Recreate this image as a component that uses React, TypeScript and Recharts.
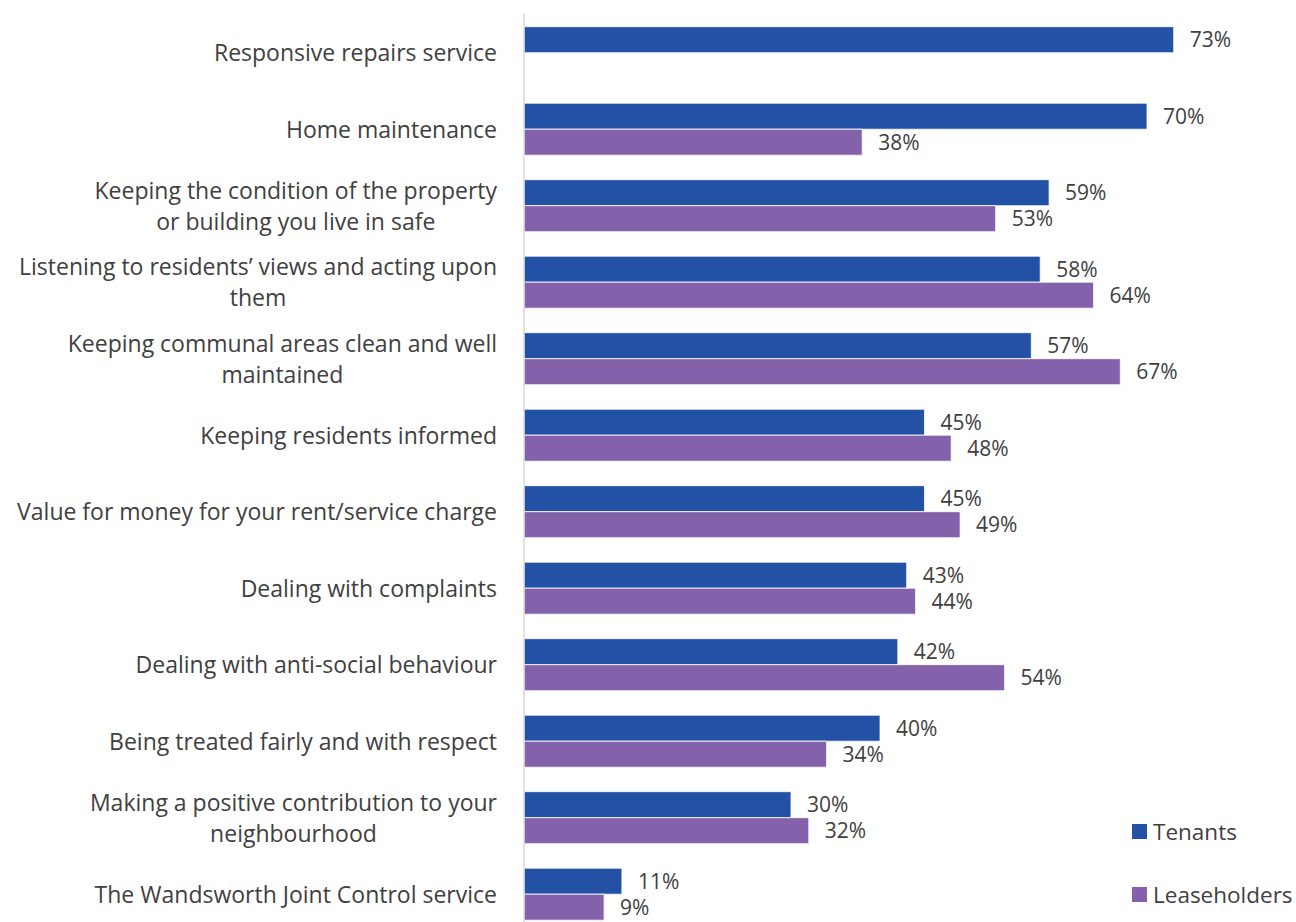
import { BarChart, Bar, XAxis, YAxis, LabelList } from "recharts";

const categories: string[] = [
  "Responsive repairs service",
  "Home maintenance",
  "Keeping the condition of the property\nor building you live in safe",
  "Listening to residents’ views and acting upon\nthem",
  "Keeping communal areas clean and well\nmaintained",
  "Keeping residents informed",
  "Value for money for your rent/service charge",
  "Dealing with complaints",
  "Dealing with anti-social behaviour",
  "Being treated fairly and with respect",
  "Making a positive contribution to your\nneighbourhood",
  "The Wandsworth Joint Control service",
];

const tenants: number[] = [73, 70, 59, 58, 57, 45, 45, 43, 42, 40, 30, 11];
const leaseholders: (number | null)[] = [null, 38, 53, 64, 67, 48, 49, 44, 54, 34, 32, 9];

const seriesNames = ["Tenants", "Leaseholders"];

const TENANT_COLOR = "#2251A5";
const LEASE_COLOR = "#8461AB";
const TEXT = "#404040";
const FONT = "'Open Sans', sans-serif";
const TICK_SIZE = 23;

const data = categories.map((name, i) => ({
  name,
  tenants: tenants[i],
  leaseholders: leaseholders[i],
}));

// measure text so wrapped lines can be centred on the widest one
let ctx: CanvasRenderingContext2D | null = null;
function textWidth(s: string) {
  if (!ctx) ctx = document.createElement("canvas").getContext("2d");
  if (!ctx) return s.length * TICK_SIZE * 0.5;
  ctx.font = `${TICK_SIZE}px 'Open Sans'`;
  return ctx.measureText(s).width;
}

function CategoryTick({ x, y, payload }: any) {
  const lines = String(payload.value).split("\n");
  const lh = 31;
  const start = -((lines.length - 1) * lh) / 2;
  const multi = lines.length > 1;
  const w = multi ? Math.max(...lines.map(textWidth)) : 0;
  const tx = multi ? x - w / 2 : x;
  return (
    <text x={tx} y={y} textAnchor={multi ? "middle" : "end"} fill={TEXT} fontSize={TICK_SIZE} fontFamily={FONT}>
      {lines.map((line, i) => (
        <tspan key={i} x={tx} y={y + start + i * lh} dominantBaseline="central">
          {line}
        </tspan>
      ))}
    </text>
  );
}

function LegendBox() {
  const colors = [TENANT_COLOR, LEASE_COLOR];
  return (
    <div style={{ position: "absolute", left: 1132, top: 816, fontFamily: FONT, fontSize: 22.5, color: TEXT }}>
      {seriesNames.map((label, i) => (
        <div key={label} style={{ display: "flex", alignItems: "center", height: 31, marginBottom: 32 }}>
          <span style={{ width: 15, height: 15, background: colors[i], marginRight: 6, display: "inline-block" }} />
          <span>{label}</span>
        </div>
      ))}
    </div>
  );
}

const pct = (v: any) => (v == null ? "" : `${v}%`);

export default function App() {
  return (
    <div style={{ position: "absolute", left: 0, top: 0, width: 1296, height: 922, overflow: "hidden", background: "#fff" }}>
      <BarChart
        width={1296}
        height={932}
        data={data}
        layout="vertical"
        margin={{ top: 14, right: 60, bottom: 0, left: 0 }}
        barCategoryGap="16.6%"
        barGap={0}
      >
        <XAxis type="number" domain={[0, 80]} hide />
        <YAxis
          type="category"
          dataKey="name"
          width={524}
          tickLine={false}
          tickSize={0}
          tickMargin={27}
          axisLine={{ stroke: "#d9d9d9", strokeWidth: 1.5 }}
          tick={<CategoryTick />}
          interval={0}
        />
        <Bar dataKey="tenants" name={seriesNames[0]} fill={TENANT_COLOR} stroke="#ffffff" strokeWidth={0.8} isAnimationActive={false}>
          <LabelList dataKey="tenants" position="right" offset={16} formatter={pct} fill={TEXT} fontSize={21} fontFamily={FONT} />
        </Bar>
        <Bar dataKey="leaseholders" name={seriesNames[1]} fill={LEASE_COLOR} stroke="#ffffff" strokeWidth={0.8} isAnimationActive={false}>
          <LabelList dataKey="leaseholders" position="right" offset={16} formatter={pct} fill={TEXT} fontSize={21} fontFamily={FONT} />
        </Bar>
      </BarChart>
      <LegendBox />
    </div>
  );
}
